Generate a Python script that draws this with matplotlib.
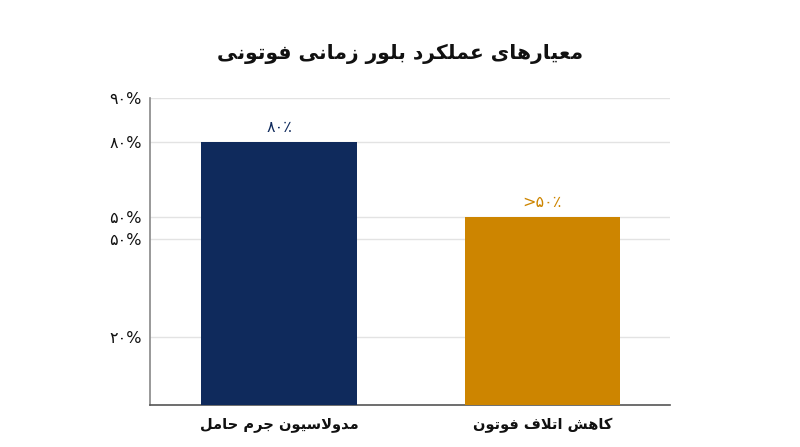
import matplotlib
matplotlib.use("Agg")
import matplotlib.pyplot as plt
import numpy as np
from matplotlib import font_manager
from matplotlib.ft2font import FT2Font

# ---------------- data ----------------
title = "معیارهای عملکرد بلور زمانی فوتونی"
categories = ["مدولاسیون جرم حامل", "کاهش اتلاف فوتون"]
values = [80, 50]
value_labels = ["۸۰٪", ">۵۰٪"]
tick_values = [20, 45, 50, 80, 90]
tick_labels = ["۲۰%", "۵۰%", "۵۰%", "۸۰%", "۹۰%"]
colors = ["#0f2a5c", "#cd8500"]

# ---------------- minimal Arabic/Persian shaping ----------------
FONT = "DejaVu Sans"
font_path = font_manager.findfont(font_manager.FontProperties(family=FONT))
_ft = FT2Font(font_path)


def has(cp):
    try:
        return _ft.get_char_index(cp) != 0
    except Exception:
        return False


FORMS = {
    0x0627: (0xFE8D, 0xFE8E, None, None),
    0x0628: (0xFE8F, 0xFE90, 0xFE91, 0xFE92),
    0x062A: (0xFE95, 0xFE96, 0xFE97, 0xFE98),
    0x062C: (0xFE9D, 0xFE9E, 0xFE9F, 0xFEA0),
    0x062D: (0xFEA1, 0xFEA2, 0xFEA3, 0xFEA4),
    0x062F: (0xFEA9, 0xFEAA, None, None),
    0x0631: (0xFEAD, 0xFEAE, None, None),
    0x0632: (0xFEAF, 0xFEB0, None, None),
    0x0633: (0xFEB1, 0xFEB2, 0xFEB3, 0xFEB4),
    0x0634: (0xFEB5, 0xFEB6, 0xFEB7, 0xFEB8),
    0x0639: (0xFEC9, 0xFECA, 0xFECB, 0xFECC),
    0x0641: (0xFED1, 0xFED2, 0xFED3, 0xFED4),
    0x0644: (0xFEDD, 0xFEDE, 0xFEDF, 0xFEE0),
    0x0645: (0xFEE1, 0xFEE2, 0xFEE3, 0xFEE4),
    0x0646: (0xFEE5, 0xFEE6, 0xFEE7, 0xFEE8),
    0x0647: (0xFEE9, 0xFEEA, 0xFEEB, 0xFEEC),
    0x0648: (0xFEED, 0xFEEE, None, None),
}
if all(has(c) for c in (0xFB8E, 0xFB8F, 0xFB90, 0xFB91)):
    FORMS[0x06A9] = (0xFB8E, 0xFB8F, 0xFB90, 0xFB91)
else:
    FORMS[0x06A9] = (0xFED9, 0xFEDA, 0xFEDB, 0xFEDC)
if all(has(c) for c in (0xFBFC, 0xFBFD, 0xFBFE, 0xFBFF)):
    FORMS[0x06CC] = (0xFBFC, 0xFBFD, 0xFBFE, 0xFBFF)
else:
    FORMS[0x06CC] = (0xFEEF, 0xFEF0, 0xFEF3, 0xFEF4)


def shape(text):
    chars = [ord(c) for c in text]
    seq = []
    i = 0
    while i < len(chars):
        if chars[i] == 0x0644 and i + 1 < len(chars) and chars[i + 1] == 0x0627:
            seq.append("LA")
            i += 2
        else:
            seq.append(chars[i])
            i += 1

    def joins_next(c):
        if c == "LA":
            return False
        return c in FORMS and FORMS[c][2] is not None

    def is_letter(c):
        return c == "LA" or c in FORMS

    out = []
    for k, c in enumerate(seq):
        prev = seq[k - 1] if k > 0 else None
        nxt = seq[k + 1] if k + 1 < len(seq) else None
        left = prev is not None and joins_next(prev)
        if c == "LA":
            out.append(chr(0xFEFC if left else 0xFEFB))
            continue
        if c not in FORMS:
            out.append(chr(c))
            continue
        iso, fin, ini, med = FORMS[c]
        right = nxt is not None and is_letter(nxt) and ini is not None
        if left and right:
            g = med
        elif left:
            g = fin
        elif right:
            g = ini
        else:
            g = iso
        out.append(chr(g))
    return "".join(reversed(out))


# ---------------- figure ----------------
plt.rcParams["font.family"] = [FONT]
fig = plt.figure(figsize=(8.0, 4.47), dpi=100)
ax = fig.add_axes([150 / 800, 42 / 447, 520 / 800, 306.7 / 447])

# piecewise axis scale reproducing the reference's tick spacing
knots_v = [0, 20, 45, 50, 80, 90]
knots_p = [0, 20, 48.7, 55.3, 77.3, 90]


def fwd(v):
    return np.interp(v, knots_v, knots_p)


def inv(p):
    return np.interp(p, knots_p, knots_v)


ax.set_yscale("function", functions=(fwd, inv))

x = np.arange(len(categories))
bars = ax.bar(x, values, width=0.59, color=colors, zorder=3)

for b, lab, col in zip(bars, value_labels, colors):
    ax.annotate(lab, (b.get_x() + b.get_width() / 2, b.get_height()),
                xytext=(0, 5), textcoords="offset points",
                ha="center", va="bottom", fontsize=11.5, color=col)

ax.set_xlim(-0.49, 1.485)
ax.set_ylim(0, 90)
ax.set_yticks(tick_values)
ax.set_yticklabels(tick_labels, fontsize=11.5, color="#111111")
ax.set_xticks(x)
ax.set_xticklabels([shape(c) for c in categories], fontsize=10.5,
                   fontweight="bold", color="#111111")
ax.tick_params(axis="both", length=0, pad=6)
ax.tick_params(axis="x", pad=9)

ax.grid(axis="y", color="#e3e3e3", linewidth=1.0, zorder=0)
for s in ("top", "right"):
    ax.spines[s].set_visible(False)
ax.spines["left"].set_color("#888888")
ax.spines["left"].set_linewidth(1.2)
ax.spines["bottom"].set_color("#555555")
ax.spines["bottom"].set_linewidth(1.2)

fig.text(0.5, 1 - 54 / 447, shape(title), ha="center", va="center",
         fontsize=14.6, fontweight="bold", color="#111111")

fig.savefig("out.png", dpi=100, facecolor="white")
